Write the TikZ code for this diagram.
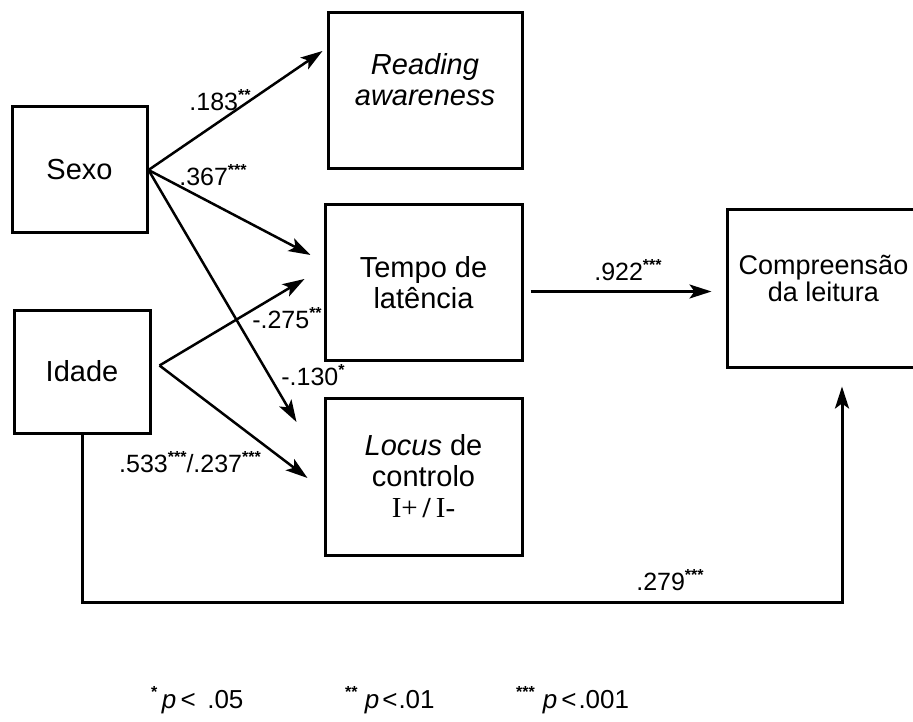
\documentclass[tikz,border=0pt]{standalone}
\usepackage{fontspec}
\setmainfont{Liberation Sans}
\newfontfamily\serifx{Liberation Serif}
\usetikzlibrary{arrows.meta}
\newcommand\stars[1]{\raisebox{0.4em}{\fontsize{16}{16}\selectfont\bfseries #1}}
\begin{document}
\begin{tikzpicture}[x=1pt,y=-1pt,
  box/.style={draw,line width=3pt,inner sep=0pt,align=center,font=\fontsize{29}{31}\selectfont},
  arr/.style={line width=2.5pt,-{Stealth[length=22pt,width=14pt,inset=5pt]}},
  lab/.style={font=\fontsize{25}{28}\selectfont,inner sep=0pt},
  leg/.style={font=\fontsize{26}{28}\selectfont,inner sep=0pt,anchor=base west}]
\useasboundingbox (0,0) rectangle (913,722);
\fill[white] (0,0) rectangle (913,722);
% boxes
\node[box,minimum width=135pt,minimum height=126pt] (Sexo) at (79.5,170) {Sexo};
\node[box,minimum width=136pt,minimum height=123pt] (Idade) at (82,371.5) {Idade};
\node[box,minimum width=194pt,minimum height=156pt,
  label={[name=ReadT,yshift=11pt,align=center,font=\fontsize{29}{31}\selectfont\itshape]center:Reading\\awareness}] (Read) at (425,91) {};
\node[box,minimum width=197pt,minimum height=155pt] (Tempo) at (423.5,282.5) {Tempo de\\latência};
\node[box,minimum width=197pt,minimum height=157pt] (Locus) at (423.5,476.5) {\textit{Locus} de\\controlo\\{\serifx I+\,\textbf{/}\,I-}};
\node[box,minimum width=193pt,minimum height=157pt,
  label={[name=CompT,yshift=10pt,align=center,font=\fontsize{27}{22}\selectfont]center:Compreensão\\da leitura}] (Comp) at (823.5,288.5) {};
% connectors
\draw[arr] (Sexo.east) -- ([shift={(-4pt,40pt)}]Read.west);
\draw[arr] (Sexo.east) -- ([shift={(-13pt,27.5pt)}]Tempo.west);
\draw[arr] (Sexo.east) -- ([shift={(-27pt,54.5pt)}]Locus.west);
\draw[arr] ([shift={(8pt,6pt)}]Idade.east) -- ([shift={(-19pt,3.5pt)}]Tempo.west);
\draw[arr] ([shift={(8pt,6pt)}]Idade.east) -- ([shift={(-16pt,-1.5pt)}]Locus.west);
\draw[arr] ([shift={(7pt,-9pt)}]Tempo.east) -- ([shift={(-14pt,-3pt)}]Comp.west);
\coordinate (bend) at (82,602);
\draw[arr,line width=3pt] (Idade.south) -- (Idade.south |- bend) -| ([shift={(18.5pt,-18pt)}]Comp.south);
% labels
\node[lab] (l183) at (220,100) {.183\stars{**}};
\node[lab] (l367) at (213,175) {.367\stars{***}};
\node[lab] (l275) at (287,318) {-.275\stars{**}};
\node[lab] (l130) at (313,375) {-.130\stars{*}};
\node[lab] (l533) at (190,462) {.533\stars{***}/.237\stars{***}};
\node[lab] (l922) at (628,270) {.922\stars{***}};
\node[lab] (l279) at (670,580) {.279\stars{***}};
% legend
\node[leg] (leg1) at (151,708) {\stars{*}\,\textit{p}\,<\, .05};
\node[leg] (leg2) at (345,708) {\stars{**} \textit{p}\hspace{3pt}<\hspace{1pt}.01};
\node[leg] (leg3) at (516,708) {\stars{***}\hspace{8pt}\textit{p}\hspace{4pt}<\hspace{2pt}.001};
\end{tikzpicture}
\end{document}
